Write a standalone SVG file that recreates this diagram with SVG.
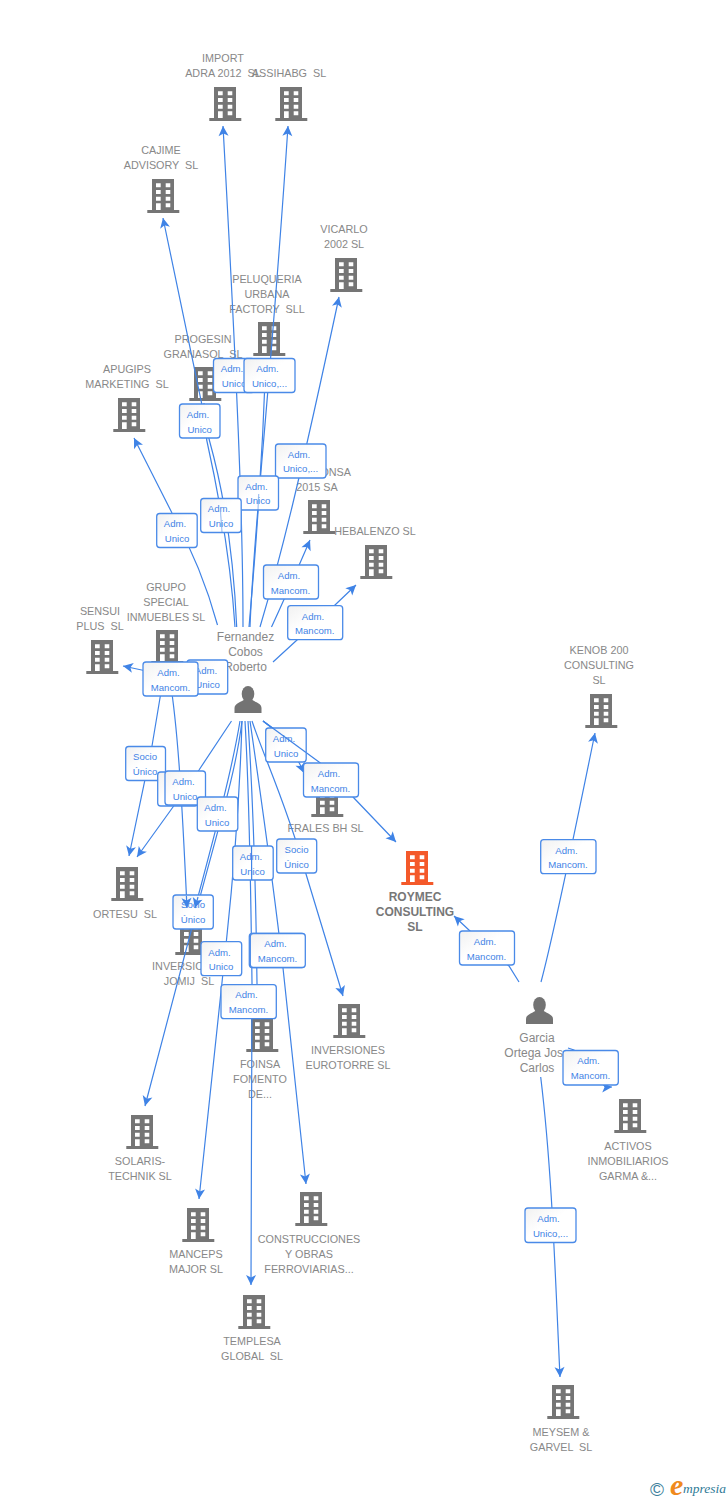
<svg xmlns="http://www.w3.org/2000/svg" width="728" height="1500" viewBox="0 0 728 1500">
<style>
text{font-family:"Liberation Sans",Arial,sans-serif;white-space:pre}
.n{font-size:10.8px;fill:#888;text-anchor:middle}
.p{font-size:12px;fill:#888;text-anchor:middle}
.t{font-size:12px;font-weight:bold;fill:#777;text-anchor:middle}
.l{font-size:9.6px;fill:#3f83e6;text-anchor:middle}
.b{fill:url(#g);stroke:#4a8ae8;stroke-width:1.3}
.c{fill:none;stroke:#3f83e6;stroke-width:1.2}
.f{opacity:.5}
.a{marker-end:url(#ar)}
</style>
<defs>
<linearGradient id="g" x1="0" y1="0" x2="1" y2="1"><stop offset="0" stop-color="#f1f1f1"/><stop offset="0.45" stop-color="#fff"/><stop offset="1" stop-color="#fff"/></linearGradient>
<marker id="ar" markerUnits="userSpaceOnUse" markerWidth="13" markerHeight="13" refX="11" refY="6.500" orient="auto" overflow="visible"><path d="M1,1.500L11,6.500L1,11.500L3.500,6.500Z" fill="#3f83e6"/></marker>
<g id="bld"><path fill="currentColor" fill-rule="evenodd" d="M5,0H27V31H32.300V34H0.300V31H5ZM9,4.300V8.300H13.700V4.300ZM18.700,4.300V8.300H23.300V4.300ZM9,11V15H13.700V11ZM18.700,11V15H23.300V11ZM9,17.700V21.700H13.700V17.700ZM18.700,17.700V21.700H23.300V17.700ZM9,24.300V31H13.700V24.300ZM18.700,24.300V28.300H23.300V24.300Z"/></g>
<g id="psn"><ellipse cx="0" cy="8" rx="6.300" ry="8" fill="#737373"/><path fill="#737373" d="M-13.500,27V22C-13.500,17-6,16-3,13H3C6,16 13.500,17 13.500,22V27Z"/></g>
</defs>
<g color="#757575">
<g id="n-import"><use href="#bld" x="209" y="87"/><text class="n" x="223" y="62">IMPORT</text><text class="n" x="223" y="77">ADRA 2012  SL</text></g>
<g id="n-assihabg"><use href="#bld" x="275" y="87"/><text class="n" x="289" y="77">ASSIHABG  SL</text></g>
<g id="n-cajime"><use href="#bld" x="147" y="179"/><text class="n" x="161" y="154">CAJIME</text><text class="n" x="161" y="169">ADVISORY  SL</text></g>
<g id="n-vicarlo"><use href="#bld" x="330" y="258"/><text class="n" x="344" y="233">VICARLO</text><text class="n" x="344" y="248">2002 SL</text></g>
<g id="n-peluqueria"><use href="#bld" x="253" y="322"/><text class="n" x="267" y="283">PELUQUERIA</text><text class="n" x="267" y="298">URBANA</text><text class="n" x="267" y="313">FACTORY  SLL</text></g>
<g id="n-progesin"><use href="#bld" x="189" y="367"/><text class="n" x="203" y="343">PROGESIN</text><text class="n" x="203" y="358">GRANASOL  SL</text></g>
<g id="n-apugips"><use href="#bld" x="113" y="398"/><text class="n" x="127" y="373">APUGIPS</text><text class="n" x="127" y="388">MARKETING  SL</text></g>
<g id="n-onsa"><use href="#bld" x="303" y="500"/><text class="n" x="351" y="476" style="text-anchor:end">ONSA</text><text class="n" x="317" y="491">2015 SA</text></g>
<g id="n-hebalenzo"><use href="#bld" x="360" y="545"/><text class="n" x="375" y="535">HEBALENZO SL</text></g>
<g id="n-grupo"><use href="#bld" x="151" y="630"/><text class="n" x="166" y="591">GRUPO</text><text class="n" x="166" y="606">SPECIAL</text><text class="n" x="166" y="621">INMUEBLES SL</text></g>
<g id="n-sensui"><use href="#bld" x="86" y="640"/><text class="n" x="100" y="615">SENSUI</text><text class="n" x="100" y="630">PLUS  SL</text></g>
<g id="n-kenob"><use href="#bld" x="585" y="694"/><text class="n" x="599" y="654">KENOB 200</text><text class="n" x="599" y="669">CONSULTING</text><text class="n" x="599" y="684">SL</text></g>
<g id="n-frales"><use href="#bld" x="311" y="783"/><text class="n" x="325.500" y="832">FRALES BH SL</text></g>
<g id="n-ortesu"><use href="#bld" x="111" y="867"/><text class="n" x="125" y="918">ORTESU  SL</text></g>
<g id="n-roymec" color="#f4592a"><use href="#bld" x="401" y="851"/><text class="t" x="415" y="901">ROYMEC</text><text class="t" x="415" y="916">CONSULTING</text><text class="t" x="415" y="931">SL</text></g>
<g id="n-jomij"><use href="#bld" x="175" y="921"/><text class="n" x="189" y="970">INVERSIONES</text><text class="n" x="189" y="985">JOMIJ  SL</text></g>
<g id="n-foinsa"><use href="#bld" x="246" y="1018"/><text class="n" x="260" y="1068">FOINSA</text><text class="n" x="260" y="1083">FOMENTO</text><text class="n" x="260" y="1098">DE...</text></g>
<g id="n-eurotorre"><use href="#bld" x="333" y="1004"/><text class="n" x="348" y="1054">INVERSIONES</text><text class="n" x="348" y="1069">EUROTORRE SL</text></g>
<g id="n-activos"><use href="#bld" x="614" y="1099"/><text class="n" x="628" y="1150">ACTIVOS</text><text class="n" x="628" y="1165">INMOBILIARIOS</text><text class="n" x="628" y="1180">GARMA &amp;...</text></g>
<g id="n-solaris"><use href="#bld" x="126" y="1115"/><text class="n" x="140" y="1165">SOLARIS-</text><text class="n" x="140" y="1180">TECHNIK SL</text></g>
<g id="n-manceps"><use href="#bld" x="182" y="1208"/><text class="n" x="196" y="1258">MANCEPS</text><text class="n" x="196" y="1273">MAJOR SL</text></g>
<g id="n-construcciones"><use href="#bld" x="295" y="1192"/><text class="n" x="309" y="1243">CONSTRUCCIONES</text><text class="n" x="309" y="1258">Y OBRAS</text><text class="n" x="309" y="1273">FERROVIARIAS...</text></g>
<g id="n-templesa"><use href="#bld" x="238" y="1295"/><text class="n" x="252" y="1345">TEMPLESA</text><text class="n" x="252" y="1360">GLOBAL  SL</text></g>
<g id="n-meysem"><use href="#bld" x="547" y="1385"/><text class="n" x="561" y="1436">MEYSEM &amp;</text><text class="n" x="561" y="1451">GARVEL  SL</text></g>
<g id="n-fernandez"><use href="#psn" x="248" y="686"/><text class="p" x="245.500" y="641">Fernandez</text><text class="p" x="245.500" y="656">Cobos</text><text class="p" x="245.500" y="671">Roberto</text></g>
<g id="n-garcia"><use href="#psn" x="539.500" y="997"/><text class="p" x="537" y="1042">Garcia</text><text class="p" x="537" y="1057">Ortega Jose</text><text class="p" x="537" y="1072">Carlos</text></g>
</g>
<g id="connectors">
<path class="c a" d="M243,627C243,520 237,380 223,126"/>
<path class="c a" d="M250,627C254,520 270,400 288,126"/>
<path class="c a" d="M249,627C255,560 262,470 266,358"/>
<path class="c a" d="M236.700,627C234,565 226,500 209.300,440L163,218"/>
<path class="c" d="M235,627C231,565 220,500 206.700,440L204,403"/>
<path class="c a" d="M260,627C280,560 300,480 339,297"/>
<path class="c a" d="M271.500,627Q285,598 310,540"/>
<path class="c a" d="M273,662L297,640L335,605L356,585"/>
<path class="c a" d="M217.500,625C208,590 195,555 172,513L134,438"/>
<path class="c" d="M217,693L190,678"/>
<path class="c a" d="M218,693Q170,675 123,666"/>
<path class="c a" d="M163,680L152,746L129,856"/>
<path class="c a" d="M231.500,721L199,770L173,807L137,857"/>
<path class="c a" d="M170,680C178,730 182,800 187,908"/>
<path class="c" d="M240,721C232,770 215,833 195,908"/>
<path class="c a" d="M242,721C236,770 222,815 200,897L145,1106"/>
<path class="c a" d="M242,721C240,790 235,860 226.500,940L199,1199"/>
<path class="c a" d="M245,721C249,790 251,900 252,983L251,1285"/>
<path class="c a" d="M248,721C253,800 256,900 257,983L258,1016"/>
<path class="c a" d="M250,721C260,790 273,880 283,968L306,1184"/>
<path class="c a" d="M252,721C265,760 285,800 305.700,873L343,996"/>
<path class="c a" d="M263,721Q290,740 304,773"/>
<path class="c a" d="M263,721L319,762Q337,776 353,797L396,842"/>
<path class="c a" d="M541,982C555,930 575,830 595,733"/>
<path class="c a" d="M519,982L509,966L470,931L454,916"/>
<path class="c a" d="M568,1048C600,1056 590,1088 612,1087"/>
<path class="c a" d="M540.700,1077C552,1170 555,1270 560,1377"/>
</g>
<g id="labels">
<g id="l1"><rect class="b" x="213.500" y="358.500" width="41" height="34" rx="3"/><text class="l" x="232" y="372">Adm.</text><text class="l" x="234" y="387">Unico</text></g>
<g id="l2"><rect class="b" x="244" y="358.500" width="51" height="34" rx="3"/><text class="l" x="267.500" y="372">Adm.</text><text class="l" x="269.500" y="387">Unico,...</text></g>
<g id="l3"><rect class="b" x="179.500" y="404" width="40.500" height="34" rx="3"/><text class="l" x="198" y="418">Adm.</text><text class="l" x="199.700" y="432.500">Unico</text></g>
<g id="l4"><rect class="b" x="275.500" y="444" width="50.500" height="34" rx="3"/><text class="l" x="299" y="457.500">Adm.</text><text class="l" x="300.500" y="472">Unico,...</text></g>
<g id="l5"><rect class="b" x="238" y="476" width="40.500" height="34" rx="3"/><text class="l" x="256.500" y="489.500">Adm.</text><text class="l" x="258" y="504">Unico</text></g>
<g id="l6"><rect class="b" x="200.700" y="498.500" width="40.500" height="34" rx="3"/><text class="l" x="219" y="512">Adm.</text><text class="l" x="221" y="527">Unico</text></g>
<g id="l7"><rect class="b" x="156.700" y="513.500" width="40.500" height="34" rx="3"/><text class="l" x="175" y="527">Adm.</text><text class="l" x="177" y="542">Unico</text></g>
<g id="l8"><rect class="b" x="263.500" y="565" width="55" height="34" rx="3"/><text class="l" x="289" y="578.500">Adm.</text><text class="l" x="290.500" y="593.500">Mancom.</text></g>
<g id="l9"><rect class="b" x="287.700" y="605.700" width="55" height="34" rx="3"/><text class="l" x="313" y="619.500">Adm.</text><text class="l" x="314.700" y="634">Mancom.</text></g>
<g id="l10"><rect class="b" x="187" y="660" width="40.700" height="34" rx="3"/><text class="l" x="206" y="673.500">Adm.</text><text class="l" x="207.500" y="688">Unico</text></g>
<g id="l11"><rect class="b" x="143" y="662" width="55" height="34" rx="3"/><text class="l" x="168.500" y="675.500">Adm.</text><text class="l" x="170.500" y="690.500">Mancom.</text></g>
<g id="l12"><rect class="b" x="125.700" y="746.500" width="39.800" height="34" rx="3"/><text class="l" x="145" y="759.500">Socio</text><text class="l" x="145" y="774.500">Único</text></g>
<g id="l13"><rect class="b" x="157.700" y="772" width="40" height="34" rx="3"/></g>
<g id="l14"><rect class="b" x="165" y="771" width="40.500" height="34" rx="3"/><text class="l" x="183.500" y="784.500">Adm.</text><text class="l" x="185" y="799.500">Unico</text></g>
<g id="l15"><rect class="b" x="197.300" y="797" width="40.500" height="34" rx="3"/><text class="l" x="215.500" y="810.500">Adm.</text><text class="l" x="217" y="825.500">Unico</text></g>
<g id="l16"><rect class="b" x="265.700" y="728" width="40.500" height="34" rx="3"/><text class="l" x="284" y="741.500">Adm.</text><text class="l" x="286" y="756.500">Unico</text></g>
<g id="l17"><rect class="b" x="303.500" y="763" width="55" height="34" rx="3"/><text class="l" x="329" y="776.500">Adm.</text><text class="l" x="330.500" y="791.500">Mancom.</text></g>
<g id="l18"><rect class="b" x="276.700" y="839" width="40" height="34" rx="3"/><text class="l" x="296.500" y="852.500">Socio</text><text class="l" x="296.500" y="867.500">Único</text></g>
<g id="l19"><rect class="b" x="232.700" y="846" width="40.500" height="34" rx="3"/><text class="l" x="251" y="859.500">Adm.</text><text class="l" x="252.500" y="874.500">Unico</text></g>
<g id="l20"><rect class="b" x="173" y="895" width="40.300" height="34" rx="3"/><text class="l" x="193" y="908">Socio</text><text class="l" x="193" y="923">Único</text></g>
<g id="l21b"><rect class="b" x="249.300" y="933.500" width="55.300" height="34" rx="3"/></g>
<g id="l21"><rect class="b" x="250.300" y="933.500" width="55" height="34" rx="3"/><text class="l" x="275.500" y="947">Adm.</text><text class="l" x="277.500" y="962">Mancom.</text></g>
<g id="l22"><rect class="b" x="201" y="941.700" width="40.700" height="34" rx="3"/><text class="l" x="219.500" y="955.500">Adm.</text><text class="l" x="221" y="970">Unico</text></g>
<g id="l23"><rect class="b" x="221" y="984.700" width="55.300" height="34" rx="3"/><text class="l" x="246.500" y="998">Adm.</text><text class="l" x="248.500" y="1013">Mancom.</text></g>
<g id="l24"><rect class="b" x="540.700" y="839.700" width="55.300" height="34" rx="3"/><text class="l" x="566.500" y="853.500">Adm.</text><text class="l" x="568" y="868">Mancom.</text></g>
<g id="l25"><rect class="b" x="459.500" y="931" width="55" height="34" rx="3"/><text class="l" x="485" y="944.500">Adm.</text><text class="l" x="486.500" y="959.500">Mancom.</text></g>
<g id="l26"><rect class="b" x="563" y="1050.500" width="55.300" height="34.500" rx="3"/><text class="l" x="588.500" y="1064">Adm.</text><text class="l" x="590.500" y="1079">Mancom.</text></g>
<g id="l27"><rect class="b" x="525" y="1208" width="51" height="34.500" rx="3"/><text class="l" x="548.500" y="1221.500">Adm.</text><text class="l" x="550.500" y="1236.500">Unico,...</text></g>
</g>
<g id="connectors-over">
<path class="c a" d="M186.400,896L187,908"/>
<path class="c a" d="M198,897L195,908"/>
<path class="c" d="M263,721L306,752.500"/>
<path class="c" d="M251.500,846L251.700,880"/>
<path class="c f" d="M258.700,494L258,510"/>
<path class="c f" d="M220.500,512L222,532"/>
</g>
<g id="logo"><text x="650" y="1495.500" style="font-size:19px;fill:#3d7f9c">©</text><text x="670" y="1495" style="font-family:'Liberation Serif',serif;font-style:italic;font-weight:bold;font-size:30px;fill:#f08a1d">e</text><text x="683" y="1493" style="font-family:'Liberation Serif',serif;font-style:italic;font-size:13.500px;fill:#2f7a96">mpresia</text></g>
</svg>
